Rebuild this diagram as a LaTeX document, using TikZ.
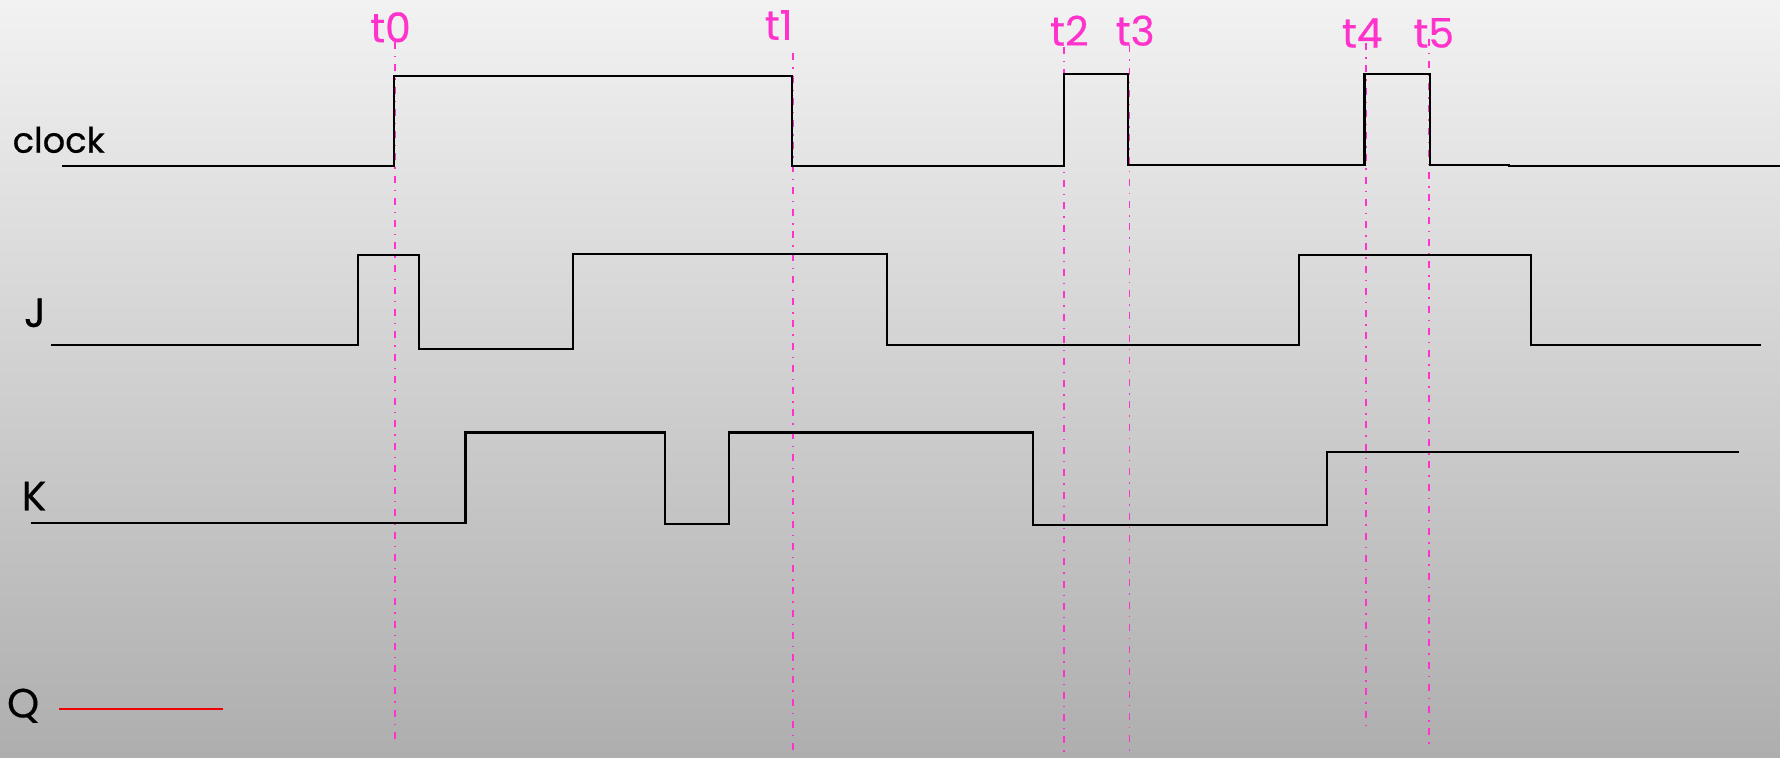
\documentclass[tikz,border=0pt]{standalone}
\usepackage{fontspec}
\setmainfont{Poppins}[FakeBold=0.4]
\definecolor{tmag}{RGB}{255,51,204}
\definecolor{bgtop}{RGB}{242,242,242}
\definecolor{bgbot}{RGB}{174,174,174}
\definecolor{qred}{RGB}{240,0,0}
\begin{document}
\begin{tikzpicture}[x=1pt,y=-1pt,
  sig/.style={line width=1.9pt,line join=miter},
  tline/.style={draw=tmag,line width=1.6pt,dash pattern=on 6.2pt off 6.2pt on 1.2pt off 6pt},
  tlab/.style={text=tmag,font=\fontsize{36}{36}\selectfont,inner sep=0pt},
  slab/.style={text=black,inner sep=0pt,anchor=base west},
  qline/.style={draw=qred,line width=1.9pt}]
\useasboundingbox (0,0) rectangle (1568,667);
\shade[top color=bgtop,bottom color=bgbot] (0,0) rectangle (1568,667);

% time labels
\node[tlab] (l0) at (344,24) {t0};
\node[tlab] (l1) at (686,22) {t1};
\node[tlab] (l2) at (942,27) {t2};
\node[tlab] (l3) at (1000,27) {t3};
\node[tlab] (l4) at (1200,29) {t4};
\node[tlab] (l5) at (1263,29) {t5};

% time marker lines
\coordinate (t0a) at (348,37);   \coordinate (t0b) at (348,651);
\coordinate (t1a) at (698.5,47); \coordinate (t1b) at (698.5,661);
\coordinate (t2a) at (937,41);   \coordinate (t2b) at (937,667);
\coordinate (t3a) at (995,40);   \coordinate (t3b) at (995,667);
\coordinate (t4a) at (1203,38);  \coordinate (t4b) at (1203,644);
\coordinate (t5a) at (1259,34);  \coordinate (t5b) at (1259,656);
\draw[tline] (t0a) -- (t0b);
\draw[tline] (t1a) -- (t1b);
\draw[tline] (t2a) -- (t2b);
\draw[tline] (t3a) -- (t3b);
\draw[tline] (t4a) -- (t4b);
\draw[tline] (t5a) -- (t5b);

% signal labels
\node[slab,font=\fontsize{31}{31}\selectfont] (clk) at (11,134.5) {clock};
\node[slab,font=\fontsize{36}{36}\selectfont] (jl) at (21,288) {J};
\node[slab,font=\fontsize{36}{36}\selectfont] (kl) at (19,449.5) {K};
\node[slab,font=\fontsize{36}{36}\selectfont] (ql) at (6,632) {Q};

% clock
\draw[sig] (55,146) -- (347,146) -- (347,67) -- (698,67) -- (698,146)
  -- (937,146) -- (937,65) -- (994,65) -- (994,145) -- (1202,145)
  -- (1202,65) -- (1260,65) -- (1260,145) -- (1329,145) -- (1329,146.5) -- (1568,146.5);

% J
\draw[sig] (45,304) -- (315,304) -- (315,224.5) -- (369,224.5) -- (369,307.5)
  -- (505,307.5) -- (505,224) -- (781,224) -- (781,304) -- (1144,304)
  -- (1144,224.5) -- (1349,224.5) -- (1349,304) -- (1551,304);

% K
\draw[sig] (27,461) -- (410,461) -- (410,381) -- (586,381) -- (586,461.5)
  -- (642,461.5) -- (642,381) -- (910,381) -- (910,462.5) -- (1169,462.5)
  -- (1169,398) -- (1532,398);

% Q
\coordinate (q0) at (52,624.5);
\coordinate (q1) at (196,624.5);
\draw[qline] (q0) -- (q1);
\end{tikzpicture}
\end{document}
